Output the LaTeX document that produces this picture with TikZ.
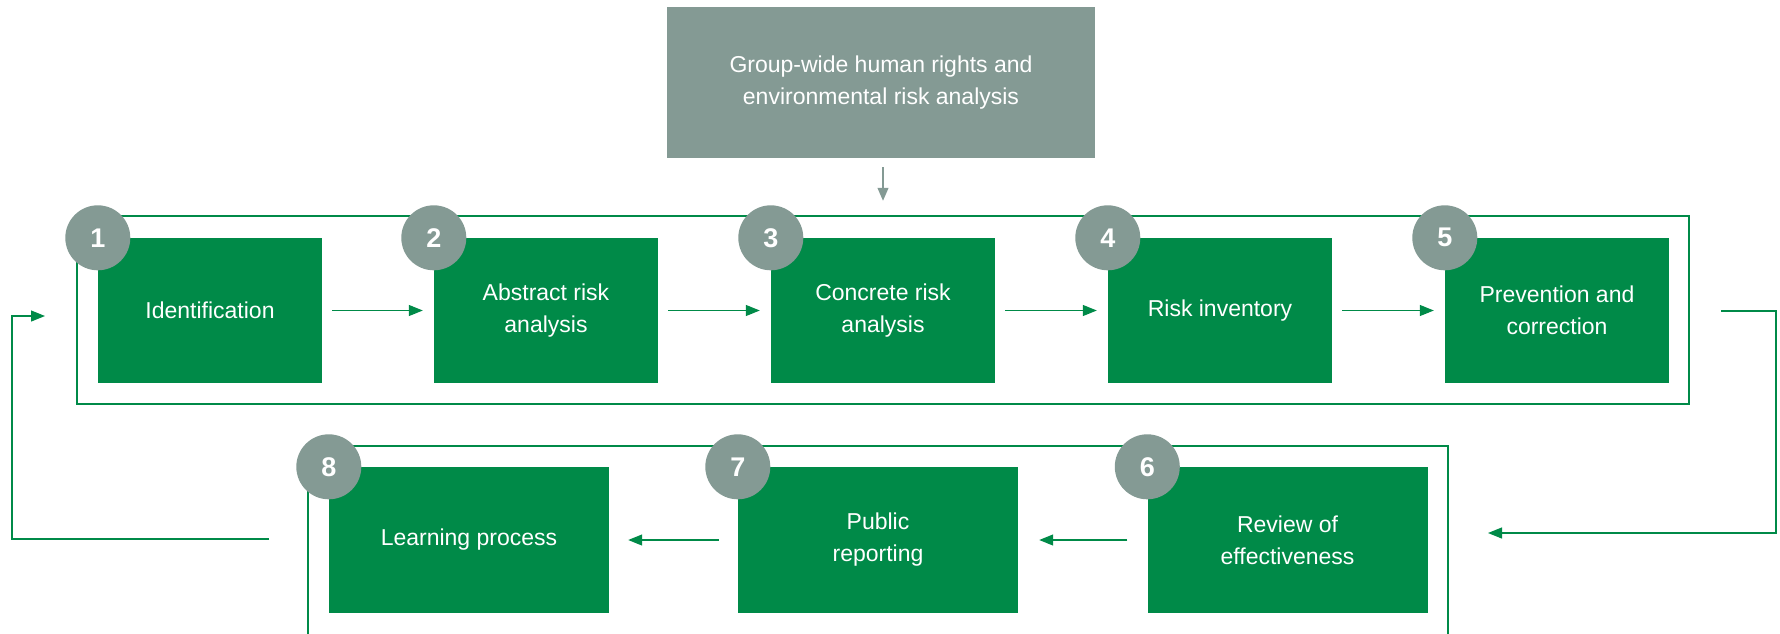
\documentclass[tikz,border=0pt]{standalone}
\usepackage{fontspec}
\setmainfont{Liberation Sans}
\usetikzlibrary{arrows.meta}
\definecolor{grn}{HTML}{008A48}
\definecolor{gry}{HTML}{849A94}
\begin{document}
\begin{tikzpicture}[x=1pt,y=-1pt,
  stepbox/.style={fill=grn, text=white, minimum width=224pt, minimum height=145pt,
    align=center, font=\fontsize{23}{32}\selectfont, inner sep=0pt},
  lowbox/.style={stepbox, minimum width=280pt, minimum height=146pt},
  topbox/.style={fill=gry, text=white, minimum width=428pt, minimum height=151pt,
    align=center, font=\fontsize{23}{32}\selectfont, inner sep=0pt},
  numc/.style={circle, fill=gry, text=white, minimum size=65pt, inner sep=0pt,
    font=\fontsize{27}{27}\selectfont\bfseries},
  frame/.style={draw=grn, line width=2.5pt, inner sep=0pt},
  conn/.style={draw=grn, line width=1.2pt, -{Triangle[length=14pt,width=11pt]}},
  gconn/.style={draw=gry, line width=1.2pt, -{Triangle[length=13pt,width=11pt]}}]
\useasboundingbox (0,0) rectangle (1780,633);
\clip (0,0) rectangle (1780,633);

% frames
\node[frame, minimum width=1612pt, minimum height=188pt] (ftop) at (883,310) {};
\node[frame, minimum width=1140pt, minimum height=214pt] (fbot) at (878,553) {};

% top source box
\node[topbox] (src) at (881,82.5) {Group-wide human rights and\\environmental risk analysis};

% top row
\node[stepbox] (b1) at (210,310.5) {Identification};
\node[stepbox] (b2) at (546,310.5) {Abstract risk\\analysis};
\node[stepbox] (b3) at (883,310.5) {Concrete risk\\analysis};
\node[stepbox] (b4) at (1220,310.5) {Risk inventory};
\node[stepbox] (b5) at (1557,310.5) {Prevention and\\correction};

% bottom row
\node[lowbox] (b6) at (1287.5,540) {Review of\\effectiveness};
\node[lowbox] (b7) at (878,540) {Public\\reporting};
\node[lowbox] (b8) at (469,540) {Learning process};

% number circles
\node[numc] (n1) at (b1.north west) {1};
\node[numc] (n2) at (b2.north west) {2};
\node[numc] (n3) at (b3.north west) {3};
\node[numc] (n4) at (b4.north west) {4};
\node[numc] (n5) at (b5.north west) {5};
\node[numc] (n6) at (b6.north west) {6};
\node[numc] (n7) at (b7.north west) {7};
\node[numc] (n8) at (b8.north west) {8};

% connectors
\draw[gconn, shorten <=9pt, shorten >=14pt] (src.south -| 883,0) -- (ftop.north -| 883,0);
\draw[conn, shorten <=10pt, shorten >=11pt] (b1.east) -- (b2.west);
\draw[conn, shorten <=10pt, shorten >=11pt] (b2.east) -- (b3.west);
\draw[conn, shorten <=10pt, shorten >=11pt] (b3.east) -- (b4.west);
\draw[conn, shorten <=10pt, shorten >=11pt] (b4.east) -- (b5.west);
\draw[conn, shorten <=20pt, shorten >=21pt] (b6.west) -- (b7.east);
\draw[conn, shorten <=19pt, shorten >=19pt] (b7.west) -- (b8.east);

\coordinate (r0) at (1721,311);
\coordinate (r1) at (1776,311);
\coordinate (r2) at (1776,533);
\coordinate (r3) at (1488,533);
\draw[conn] (r0) -- (r1) -- (r2) -- (r3);

\coordinate (l0) at (269,539);
\coordinate (l1) at (12,539);
\coordinate (l2) at (12,316);
\coordinate (l3) at (45,316);
\draw[conn] (l0) -- (l1) -- (l2) -- (l3);
\end{tikzpicture}
\end{document}
